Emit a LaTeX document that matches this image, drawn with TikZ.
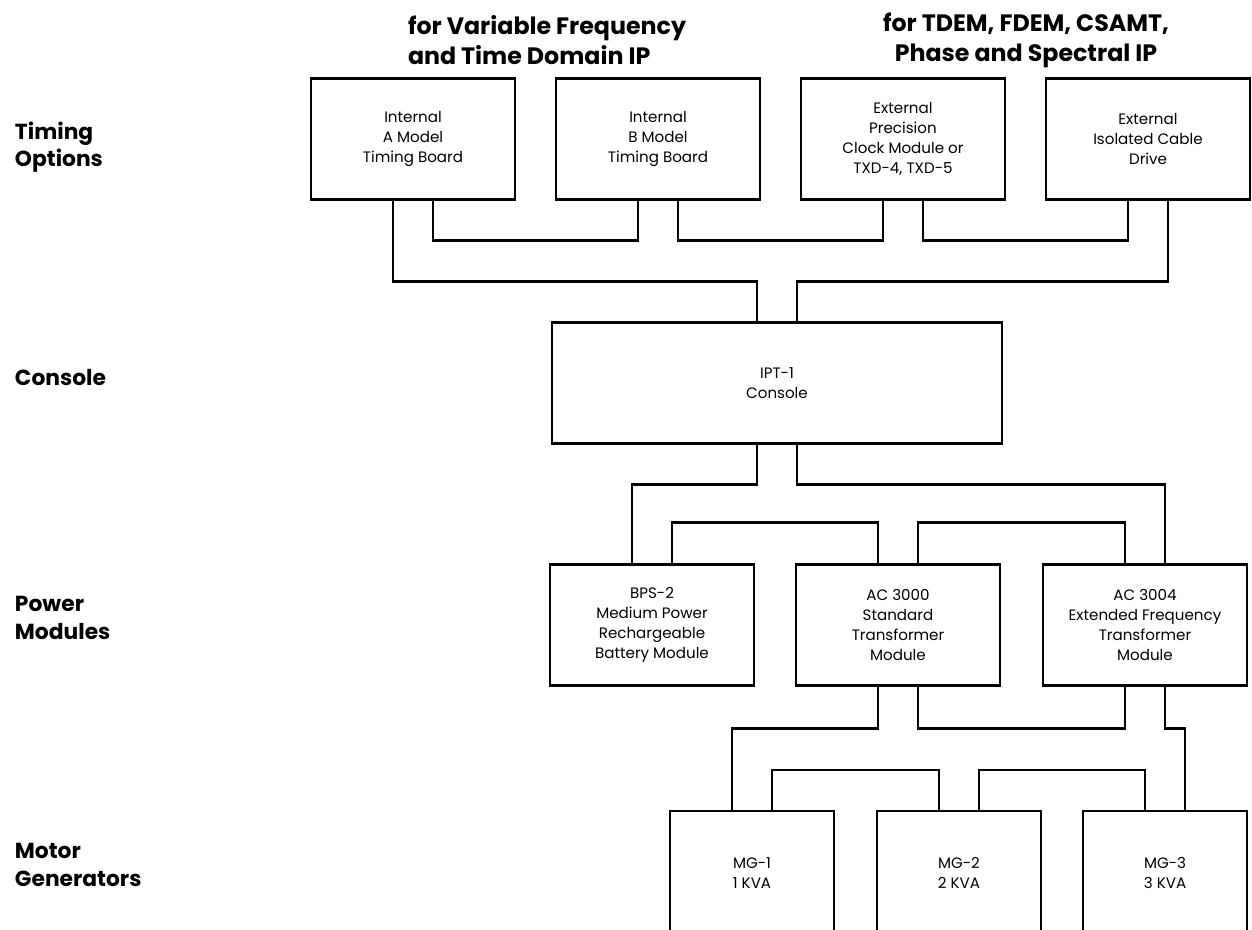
\documentclass[tikz,border=0pt]{standalone}
\usepackage{fontspec}
\setmainfont{Poppins}
\usepackage{tikz}
\usetikzlibrary{positioning}

\begin{document}
\begin{tikzpicture}[
    x=0.02cm, y=-0.02cm,
    line width=1.3pt,
    every node/.style={font=\fontsize{8.6}{11.4}\selectfont},
    box/.style={rectangle, draw, line width=1.3pt, align=center, inner sep=2pt},
    optbox/.style={box, minimum width=4.08cm, minimum height=2.42cm},
    pwrbox/.style={box, minimum width=4.08cm, minimum height=2.42cm},
    genbox/.style={box, minimum width=3.28cm, minimum height=2.48cm},
    rowlabel/.style={anchor=west, align=left, font=\fontsize{12.4}{15.6}\selectfont\bfseries},
    head/.style={align=center, font=\fontsize{13.5}{17.2}\selectfont\bfseries},
]
\useasboundingbox (0,0) rectangle (1252,930);

% Headings
\node[head, align=left, anchor=west] (headA) at (401,40) {for Variable Frequency\\and Time Domain IP};
\node[head] (headB) at (1026,40) {for TDEM, FDEM, CSAMT,\\Phase and Spectral IP};

% Row labels
\node[rowlabel] (lblTiming) at (8,147) {Timing\\Options};
\node[rowlabel] (lblConsole) at (8,378) {Console};
\node[rowlabel] (lblPower) at (8,618) {Power\\Modules};
\node[rowlabel] (lblMotor) at (8,865) {Motor\\Generators};

% Timing options
\node[optbox] (optA) at (413,139) {Internal\\A Model\\Timing Board};
\node[optbox] (optB) at (658,139) {Internal\\B Model\\Timing Board};
\node[optbox] (optC) at (903,139) {External\\Precision\\Clock Module or\\TXD-4, TXD-5};
\node[optbox] (optD) at (1148,139) {External\\Isolated Cable\\Drive};

% Console
\node[box, minimum width=9.0cm, minimum height=2.42cm] (con) at (777,383) {IPT-1\\Console};

% Power modules
\node[pwrbox] (bps) at (652,625) {BPS-2\\Medium Power\\Rechargeable\\Battery Module};
\node[pwrbox] (ac3000) at (898,625) {AC 3000\\Standard\\Transformer\\Module};
\node[pwrbox] (ac3004) at (1145,625) {AC 3004\\Extended Frequency\\Transformer\\Module};

% Motor generators (run off the bottom edge)
\node[genbox] (mg1) at (752,873) {MG-1\\1 KVA};
\node[genbox] (mg2) at (959,873) {MG-2\\2 KVA};
\node[genbox] (mg3) at (1165,873) {MG-3\\3 KVA};

% Timing options to console
\draw ([xshift=-0.4cm]optA.south) -- ++(0,81) -| ([xshift=-0.4cm]con.north);
\draw ([xshift=0.4cm]optA.south) -- ++(0,40) -| ([xshift=-0.4cm]optB.south);
\draw ([xshift=0.4cm]optB.south) -- ++(0,40) -| ([xshift=-0.4cm]optC.south);
\draw ([xshift=0.4cm]optC.south) -- ++(0,40) -| ([xshift=-0.4cm]optD.south);
\draw ([xshift=0.4cm]optD.south) -- ++(0,81) -| ([xshift=0.4cm]con.north);

% Console to power modules
\draw ([xshift=-0.4cm]con.south) -- ++(0,40) -| ([xshift=-0.4cm]bps.north);
\draw ([xshift=0.4cm]con.south) -- ++(0,40) -| ([xshift=0.4cm]ac3004.north);
\draw ([xshift=0.4cm]bps.north) -- ++(0,-41) -| ([xshift=-0.4cm]ac3000.north);
\draw ([xshift=0.4cm]ac3000.north) -- ++(0,-41) -| ([xshift=-0.4cm]ac3004.north);

% Power modules to generators
\draw ([xshift=-0.4cm]ac3000.south) -- ++(0,42) -| ([xshift=-0.4cm]mg1.north);
\draw ([xshift=0.4cm]ac3000.south) -- ++(0,42) -| ([xshift=-0.4cm]ac3004.south);
\draw ([xshift=0.4cm]ac3004.south) -- ++(0,42) -| ([xshift=0.4cm]mg3.north);
\draw ([xshift=0.4cm]mg1.north) -- ++(0,-40) -| ([xshift=-0.4cm]mg2.north);
\draw ([xshift=0.4cm]mg2.north) -- ++(0,-40) -| ([xshift=-0.4cm]mg3.north);

\end{tikzpicture}
\end{document}
